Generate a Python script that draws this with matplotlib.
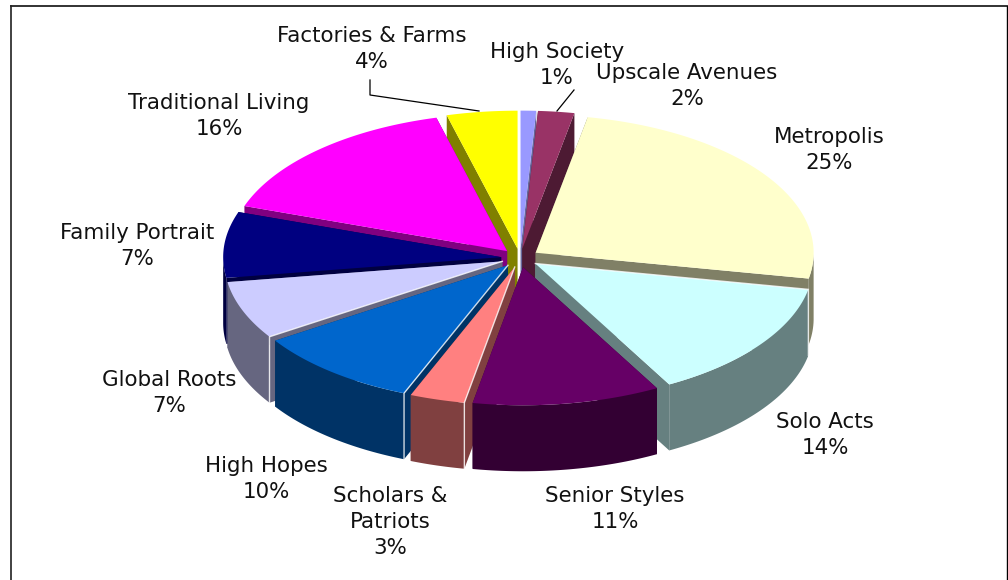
import numpy as np
import matplotlib
matplotlib.use("Agg")
import matplotlib.pyplot as plt
from matplotlib.patches import Polygon

categories = ["High Society", "Upscale Avenues", "Metropolis", "Solo Acts", "Senior Styles",
              "Scholars &\nPatriots", "High Hopes", "Global Roots", "Family Portrait",
              "Traditional Living", "Factories & Farms"]
percent_labels = ["1%", "2%", "25%", "14%", "11%", "3%", "10%", "7%", "7%", "16%", "4%"]
values = [0.9, 2.1, 25.0, 14.0, 10.9, 3.2, 9.7, 6.8, 7.7, 15.6, 4.1]
top_colors = ["#9999FF", "#993366", "#FFFFCC", "#CCFFFF", "#660066", "#FF8080",
              "#0066CC", "#CCCCFF", "#000080", "#FF00FF", "#FFFF00"]
side_colors = ["#666699", "#4D1A33", "#808066", "#668080", "#330033", "#804040",
               "#003366", "#666680", "#000040", "#800080", "#808000"]
label_xy = [(557, 65), (687, 86), (829, 150), (825, 435), (615, 509),
            (390, 522), (266, 479), (169, 393), (137, 246), (219, 116), (372, 49)]
highlighted = ["Solo Acts", "Scholars &\nPatriots", "High Hopes", "Global Roots"]

fig = plt.figure(figsize=(10.08, 5.80), dpi=100, facecolor="white")
ax = fig.add_axes([0, 0, 1, 1])
ax.set_xlim(0, 1008)
ax.set_ylim(580, 0)
ax.axis("off")

cx, cy, rx, ry, depth, gap = 520, 258, 278, 138, 66, 0.068
frac = np.array(values) / sum(values)
edges = np.r_[0, np.cumsum(frac)] * 2 * np.pi


def pt(theta, ox, oy):
    return ox + rx * np.sin(theta), oy - ry * np.cos(theta)


slices = []
for i in range(len(values)):
    a0, a1 = edges[i], edges[i + 1]
    mid = (a0 + a1) / 2
    ox = cx + gap * rx * np.sin(mid)
    oy = cy - gap * ry * np.cos(mid)
    slices.append((i, a0, a1, mid, ox, oy))

for i, a0, a1, mid, ox, oy in sorted(slices, key=lambda s: -np.cos(s[3])):
    t = np.linspace(a0, a1, 80)
    ex, ey = pt(t, ox, oy)
    fc, sc = top_colors[i], side_colors[i]
    for a in (a0, a1):
        x, y = pt(a, ox, oy)
        ax.add_patch(Polygon([(ox, oy), (x, y), (x, y + depth), (ox, oy + depth)],
                             closed=True, fc=sc, ec="none", zorder=2))
    front = t[(t > np.pi / 2) & (t < 3 * np.pi / 2)]
    if len(front) > 1:
        fx, fy = pt(front, ox, oy)
        wall = np.r_[np.c_[fx, fy], np.c_[fx, fy + depth][::-1]]
        ax.add_patch(Polygon(wall, closed=True, fc=sc, ec="none", zorder=2))
    top = np.r_[[[ox, oy]], np.c_[ex, ey]]
    ax.add_patch(Polygon(top, closed=True, fc=fc, ec="none", zorder=2))
    if categories[i] in highlighted:
        x, y = pt(a0, ox, oy)
        ax.plot([ox, x, x], [oy, y, y + depth], color="white", lw=1.0, alpha=0.8,
                solid_joinstyle="miter", zorder=2)

for name, pct, (lx, ly) in zip(categories, percent_labels, label_xy):
    ax.text(lx, ly, name + "\n" + pct, ha="center", va="center", fontsize=15.4,
            family="DejaVu Sans", linespacing=1.35, color="#111111", zorder=5)

ax.plot([370, 370, 479], [80, 95, 111], color="black", lw=0.9, zorder=4)
ax.plot([557, 574], [111, 90], color="black", lw=0.9, zorder=4)

ax.plot([11, 11], [6, 580], color="#333333", lw=1.3, zorder=6)
ax.plot([11, 1007], [6, 6], color="#222222", lw=1.3, zorder=6)
ax.plot([1006.5, 1006.5], [6, 580], color="black", lw=1.0, zorder=6)

fig.savefig("out.png", dpi=100)
